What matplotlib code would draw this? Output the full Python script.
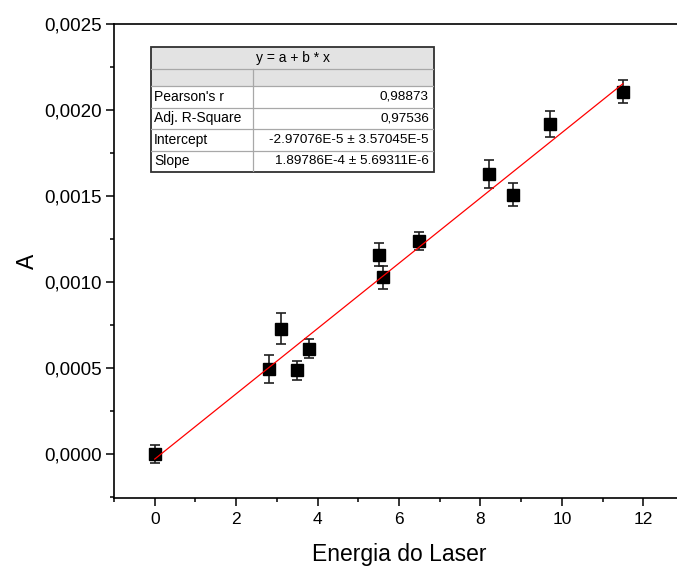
import matplotlib
matplotlib.use("Agg")
import matplotlib.pyplot as plt
import numpy as np
from matplotlib.ticker import MultipleLocator, FuncFormatter
from matplotlib.patches import Rectangle

plt.rcParams['font.family'] = ['Liberation Sans', 'DejaVu Sans']

# Data
energia = [0.0, 2.8, 3.1, 3.5, 3.8, 5.5, 5.6, 6.5, 8.2, 8.8, 9.7, 11.5]
A = [0.0, 0.000494, 0.000729, 0.000487, 0.000612, 0.001159, 0.001027,
     0.001236, 0.001628, 0.001508, 0.001919, 0.002106]
A_err = [0.000052, 0.000079, 0.000088, 0.000055, 0.000054, 0.000067, 0.000065,
         0.000052, 0.000081, 0.000068, 0.000076, 0.000066]

fit_intercept = -2.97076e-5
fit_slope = 1.89786e-4

table_title = "y = a + b * x"
table_labels = ["Pearson's r", "Adj. R-Square", "Intercept", "Slope"]
table_values = ["0,98873", "0,97536", "-2.97076E-5 \u00b1 3.57045E-5",
                "1.89786E-4 \u00b1 5.69311E-6"]

W, H = 677, 569
fig = plt.figure(figsize=(W / 100, H / 100), dpi=100)

# axes in pixel coordinates
ax_l, ax_r, ax_t, ax_b = 114, 684, 24, 498
ax = fig.add_axes([ax_l / W, 1 - ax_b / H, (ax_r - ax_l) / W, (ax_b - ax_t) / H])

ax.errorbar(energia, A, yerr=A_err, fmt='s', color='black', markersize=8,
            ecolor='#202020', elinewidth=1.2, capsize=3.5, capthick=1.2, zorder=3)

xfit = np.array([min(energia), max(energia)])
ax.plot(xfit, fit_intercept + fit_slope * xfit, color='red', linewidth=0.9, zorder=4)

ax.set_xlim(-1, 13)
ax.set_ylim(-0.000256, 0.0025)
ax.xaxis.set_major_locator(MultipleLocator(2))
ax.xaxis.set_minor_locator(MultipleLocator(1))
ax.yaxis.set_major_locator(MultipleLocator(0.0005))
ax.yaxis.set_minor_locator(MultipleLocator(0.00025))
ax.yaxis.set_major_formatter(FuncFormatter(lambda v, p: f"{v:.4f}".replace('.', ',').replace('-0,0000', '0,0000')))

ax.tick_params(which='major', direction='out', length=5.8, width=1.1, labelsize=13.5, pad=3)
ax.tick_params(which='minor', direction='out', length=3, width=1.1)
ax.tick_params(axis='x', labelsize=12.5, pad=4)
for s in ax.spines.values():
    s.set_linewidth(1.2)

ax.set_xlabel("Energia do Laser", fontsize=16.5, labelpad=12)
ax.set_ylabel("A", fontsize=16.5, labelpad=4)

# Table
t_l, t_r, t_t, t_b = 151, 434, 47, 172
tax = fig.add_axes([t_l / W, 1 - t_b / H, (t_r - t_l) / W, (t_b - t_t) / H])
tax.set_xlim(t_l, t_r)
tax.set_ylim(t_b, t_t)
tax.axis('off')
col_split = 253
rows = [47, 69, 86, 107.5, 129, 150.5, 172]
tax.add_patch(Rectangle((t_l, rows[0]), t_r - t_l, rows[2] - rows[0],
                        facecolor='#e3e3e3', edgecolor='none'))
for y in rows[1:-1]:
    tax.plot([t_l, t_r], [y, y], color='#a8a8a8', lw=0.9)
tax.plot([col_split, col_split], [rows[1], t_b], color='#a8a8a8', lw=0.9)
tax.add_patch(Rectangle((t_l, t_t), t_r - t_l, t_b - t_t, facecolor='none',
                        edgecolor='#303030', lw=1.3, clip_on=False))
tax.text((t_l + t_r) / 2, (rows[0] + rows[1]) / 2, table_title, ha='center',
         va='center', fontsize=10)
for i, (lab, val) in enumerate(zip(table_labels, table_values)):
    yc = (rows[i + 2] + rows[i + 3]) / 2
    tax.text(t_l + 3, yc, lab, ha='left', va='center', fontsize=10)
    tax.text(t_r - 5, yc, val, ha='right', va='center', fontsize=9.7)

fig.savefig("out.png", dpi=100)
